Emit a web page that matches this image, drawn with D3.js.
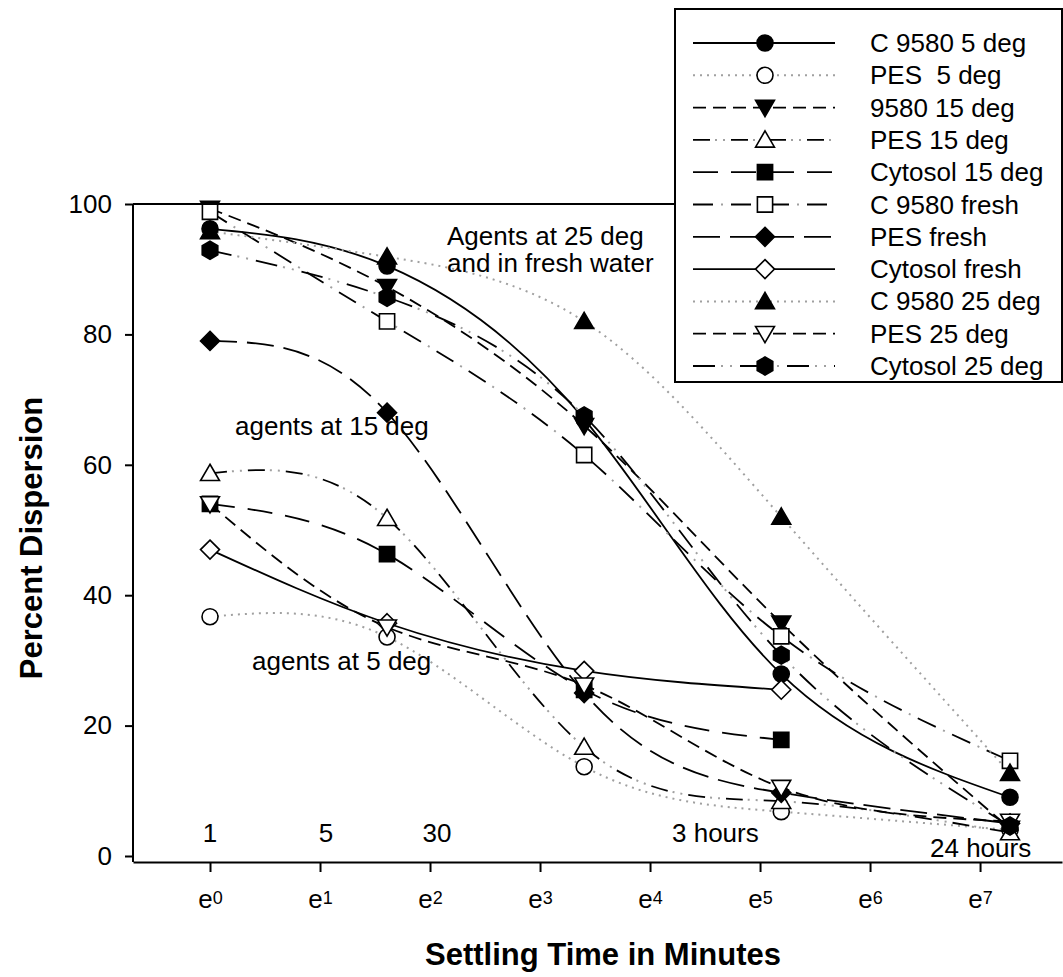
<!DOCTYPE html>
<html>
<head>
<meta charset="utf-8">
<title>Percent Dispersion vs Settling Time</title>
<script src="https://d3js.org/d3.v7.min.js" charset="utf-8"></script>
<style type="text/css">
    body {
        margin: 0;
        background: #fff;
    }
    svg {
        display: block;
        font-family: Arial, "Liberation Sans", sans-serif;
    }
    .pre { white-space: pre; }
</style>
</head>
<body>
<div id="chart"></div>
<script>
    // settling times (minutes) at which samples were taken
    var minutes = [1, 5, 30, 180, 1440];

    // percent dispersion, one array per agent / condition
    var c9580_5deg  = [96.2, 90.5, 67.0, 27.9, 9.0];
    var pes_5deg    = [36.7, 33.6, 13.7, 6.8, 4.0];
    var c9580_15deg = [99.3, 87.3, 66.0, 35.7, 4.2];
    var pes_15deg   = [58.7, 51.8, 16.7, 8.4, 3.6];
    var cyto_15deg  = [54.0, 46.3, 25.5, 17.8, null];
    var c9580_fresh = [98.8, 82.0, 61.5, 33.7, 14.6];
    var pes_fresh   = [79.0, 68.0, 25.0, 9.7, 5.0];
    var cyto_fresh  = [47.0, 35.7, 28.4, 25.5, null];
    var c9580_25deg = [95.8, 91.9, 82.0, 52.0, 12.7];
    var pes_25deg   = [54.0, 35.1, 26.2, 10.5, 5.3];
    var cyto_25deg  = [92.9, 85.7, 67.5, 30.8, 4.6];

    var seriesNames = ["C 9580 5 deg", "PES  5 deg", "9580 15 deg", "PES 15 deg", "Cytosol 15 deg",
        "C 9580 fresh", "PES fresh", "Cytosol fresh", "C 9580 25 deg", "PES 25 deg", "Cytosol 25 deg"];
    var seriesValues = [c9580_5deg, pes_5deg, c9580_15deg, pes_15deg, cyto_15deg,
        c9580_fresh, pes_fresh, cyto_fresh, c9580_25deg, pes_25deg, cyto_25deg];

    var yTicks = [0, 20, 40, 60, 80, 100];
    var xPowers = [0, 1, 2, 3, 4, 5, 6, 7];

    var noteText = ["Agents at 25 deg", "and in fresh water", "agents at 15 deg", "agents at 5 deg",
        "1", "5", "30", "3 hours", "24 hours"];

    // ---- styles (kept apart from data) ----
    var lineStyles = {
        solid:       {dash: null},
        dotted:      {black: false, dots: "2,5"},
        shortDash:   {dash: "13,7"},
        longDash:    {dash: "25,13"},
        longDash2:   {dash: "27,10"},
        dashDot:     {dash: "20,18", dots: "0,28,2,8"},
        dashDotDot:  {dash: "17,21", dots: "0,22,2,6,2,6"},
        dashDotDot2: {dash: "22,25", dots: "0,28,2,7,2,8"}
    };
    var seriesLine = ["solid", "dotted", "shortDash", "dashDotDot", "longDash",
        "dashDot", "longDash2", "solid", "dotted", "shortDash", "dashDotDot2"];
    var seriesMarker = ["circle", "circle", "triDown", "triUp", "square",
        "square", "diamond", "diamond", "triUp", "triDown", "hexagon"];
    var seriesFilled = [true, false, true, false, true, false, true, false, true, false, true];

    var notePos = [[447, 245, "start"], [447, 272, "start"], [235, 435, "start"], [252, 670, "start"],
        [210, 842, "middle"], [326, 842, "middle"], [437, 842, "middle"], [672, 842, "start"], [930, 857, "start"]];

    // custom marker shapes for d3.symbol (size = half width in px)
    function polygon(pts) {
        return {
            draw: function(ctx, s) {
                ctx.moveTo(pts[0][0] * s, pts[0][1] * s);
                for (var i = 1; i < pts.length; i++) ctx.lineTo(pts[i][0] * s, pts[i][1] * s);
                ctx.closePath();
            }
        };
    }
    var hexPts = d3.range(6).map(function(i) {
        var a = -Math.PI / 2 + i * Math.PI / 3;
        return [Math.cos(a), Math.sin(a)];
    });
    var markerTypes = {
        circle: {draw: function(ctx, s) { ctx.moveTo(s, 0); ctx.arc(0, 0, s, 0, 2 * Math.PI); }},
        square: polygon([[-1, -1], [1, -1], [1, 1], [-1, 1]]),
        triUp: polygon([[0, -1], [1.05, 0.8], [-1.05, 0.8]]),
        triDown: polygon([[0, 1], [1.05, -0.8], [-1.05, -0.8]]),
        diamond: polygon([[0, -1], [1, 0], [0, 1], [-1, 0]]),
        hexagon: polygon(hexPts)
    };
    var markerSize = {circle: 8, square: 7.6, triUp: 9, triDown: 9, diamond: 9.5, hexagon: 9};

    var width = 1063, height = 977;
    var plot = {left: 133, right: 1062, top: 204, bottom: 856, axisY: 862};

    var svg = d3.select('#chart').append('svg')
        .attr('width', width)
        .attr('height', height)
        .style('background', '#fff');

    // ln(minutes) scale, e^0 .. e^7
    var x = d3.scaleLog().base(Math.E)
        .domain([Math.exp(-0.7), Math.exp(7.745)])
        .range([plot.left, plot.right]);
    var y = d3.scaleLinear()
        .domain([0, 100])
        .range([plot.bottom, plot.top]);

    // frame: top line and left axis line
    svg.append('line')
        .attr('x1', plot.left).attr('x2', plot.right)
        .attr('y1', y(100)).attr('y2', y(100))
        .style('stroke', 'black').style('stroke-width', 2);
    svg.append('line')
        .attr('x1', plot.left).attr('x2', plot.left)
        .attr('y1', y(100)).attr('y2', plot.axisY)
        .style('stroke', 'black').style('stroke-width', 2);

    // y axis
    var yAxis = d3.axisLeft(y)
        .tickValues(yTicks)
        .tickSize(8)
        .tickPadding(13)
        .tickSizeOuter(0);
    var yGuide = svg.append('g')
        .attr('transform', 'translate(' + plot.left + ',0)')
        .call(yAxis);
    yGuide.select('.domain').remove();
    yGuide.attr('font-size', 26).attr('font-family', null);
    yGuide.selectAll('line').style('stroke', 'black').style('stroke-width', 2);
    yGuide.selectAll('text').style('fill', 'black');

    // x axis with e^n labels
    var xAxis = d3.axisBottom(x)
        .tickValues(xPowers.map(function(p) { return Math.exp(p); }))
        .tickSize(10)
        .tickSizeOuter(0)
        .tickFormat('');
    var xGuide = svg.append('g')
        .attr('transform', 'translate(0,' + plot.axisY + ')')
        .call(xAxis);
    xGuide.attr('font-size', 26).attr('font-family', null);
    xGuide.select('.domain').style('stroke', 'black').style('stroke-width', 2);
    xGuide.selectAll('line').style('stroke', 'black').style('stroke-width', 2);
    xGuide.selectAll('.tick text').remove();
    var xLabel = xGuide.selectAll('.tick').append('text')
        .attr('y', 46)
        .attr('text-anchor', 'middle')
        .style('fill', 'black');
    xLabel.append('tspan').text('e');
    xLabel.append('tspan')
        .attr('font-size', 18)
        .attr('dy', -4)
        .text(function(d) { return Math.round(Math.log(d)); });

    // axis titles
    svg.append('text')
        .attr('x', 603).attr('y', 965)
        .attr('text-anchor', 'middle')
        .attr('font-size', 31).attr('font-weight', 'bold')
        .text('Settling Time in Minutes');
    svg.append('text')
        .attr('transform', 'translate(42,538) rotate(-90)')
        .attr('text-anchor', 'middle')
        .attr('font-size', 31).attr('font-weight', 'bold')
        .text('Percent Dispersion');

    // spline curves through the points
    function drawLine(g, d, styleName, gen) {
        var st = lineStyles[styleName];
        if (st.black !== false) {
            g.append('path').datum(d).attr('d', gen)
                .style('fill', 'none').style('stroke', 'black').style('stroke-width', 1.8)
                .attr('stroke-dasharray', st.dash);
        }
        if (st.dots) {
            g.append('path').datum(d).attr('d', gen)
                .style('fill', 'none').style('stroke', '#a0a0a0').style('stroke-width', 2)
                .attr('stroke-dasharray', st.dots);
        }
    }

    var line = d3.line()
        .defined(function(d) { return d.v != null; })
        .x(function(d) { return x(d.m); })
        .y(function(d) { return y(d.v); })
        .curve(d3.curveNatural);

    var series = seriesNames.map(function(name, i) {
        return {
            name: name,
            points: minutes.map(function(m, j) { return {m: m, v: seriesValues[i][j]}; })
                .filter(function(p) { return p.v != null; }),
            line: seriesLine[i],
            marker: seriesMarker[i],
            filled: seriesFilled[i]
        };
    });

    var linesG = svg.append('g');
    series.forEach(function(s) { drawLine(linesG, s.points, s.line, line); });

    var marksG = svg.append('g');
    series.forEach(function(s) {
        marksG.selectAll(null)
            .data(s.points)
            .enter().append('path')
            .attr('d', d3.symbol().type(markerTypes[s.marker]).size(markerSize[s.marker]))
            .attr('transform', function(d) { return 'translate(' + x(d.m) + ',' + y(d.v) + ')'; })
            .style('fill', s.filled ? 'black' : 'white')
            .style('stroke', 'black')
            .style('stroke-width', 1.6);
    });

    // notes inside the plot
    svg.append('g').selectAll('text')
        .data(noteText)
        .enter().append('text')
        .attr('x', function(d, i) { return notePos[i][0]; })
        .attr('y', function(d, i) { return notePos[i][1]; })
        .attr('text-anchor', function(d, i) { return notePos[i][2]; })
        .attr('font-size', 26)
        .text(function(d) { return d; });

    // legend
    var legend = {left: 675, top: 9, width: 387, height: 373, row0: 43, step: 32.3,
        lineX1: 693, lineX2: 835, markX: 765, textX: 870};
    var lg = svg.append('g');
    lg.append('rect')
        .attr('x', legend.left).attr('y', legend.top)
        .attr('width', legend.width).attr('height', legend.height)
        .style('fill', 'white').style('stroke', 'black').style('stroke-width', 2);
    var straight = d3.line().x(function(d) { return d[0]; }).y(function(d) { return d[1]; });
    series.forEach(function(s, i) {
        var ry = legend.row0 + i * legend.step;
        drawLine(lg, [[legend.lineX1, ry], [legend.lineX2, ry]], s.line, straight);
        lg.append('path')
            .attr('d', d3.symbol().type(markerTypes[s.marker]).size(markerSize[s.marker]))
            .attr('transform', 'translate(' + legend.markX + ',' + ry + ')')
            .style('fill', s.filled ? 'black' : 'white')
            .style('stroke', 'black')
            .style('stroke-width', 1.6);
        lg.append('text')
            .attr('class', 'pre')
            .attr('x', legend.textX)
            .attr('y', ry + 9)
            .attr('font-size', 26)
            .text(s.name);
    });
</script>
</body>
</html>
